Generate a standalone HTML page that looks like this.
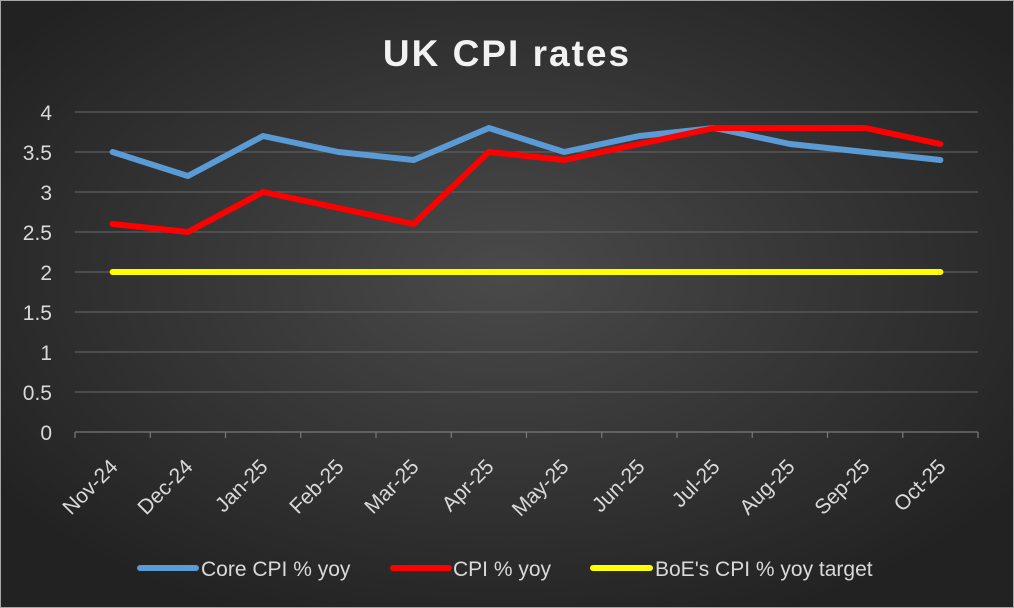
<!DOCTYPE html>
<html><head><meta charset="utf-8"><style>
html,body{margin:0;padding:0;background:#262626;}
svg{display:block;}
text{font-family:"Liberation Sans",sans-serif;}
</style></head><body>
<svg width="1014" height="608" viewBox="0 0 1014 608" xmlns="http://www.w3.org/2000/svg">
<defs>
<radialGradient id="bg" cx="50%" cy="45%" r="62%">
<stop offset="0" stop-color="#4a4a4a"/>
<stop offset="1" stop-color="#222222"/>
</radialGradient>
</defs>
<rect x="0" y="0" width="1014" height="608" fill="url(#bg)"/>
<rect x="0.5" y="0.5" width="1013" height="607" fill="none" stroke="#a6a6a6" stroke-width="1"/>
<text x="507" y="66" text-anchor="middle" font-size="37" font-weight="bold" fill="#f2f2f2" letter-spacing="2">UK CPI rates</text>
<g stroke="#5e5e5e" stroke-width="1.2">
<line x1="75" y1="112" x2="978" y2="112"/>
<line x1="75" y1="152" x2="978" y2="152"/>
<line x1="75" y1="192" x2="978" y2="192"/>
<line x1="75" y1="232" x2="978" y2="232"/>
<line x1="75" y1="272" x2="978" y2="272"/>
<line x1="75" y1="312" x2="978" y2="312"/>
<line x1="75" y1="352" x2="978" y2="352"/>
<line x1="75" y1="392" x2="978" y2="392"/>
</g>
<g stroke="#7a7a7a" stroke-width="1.2">
<line x1="75" y1="432" x2="978" y2="432"/>
<line x1="75" y1="432" x2="75" y2="438"/><line x1="150.25" y1="432" x2="150.25" y2="438"/><line x1="225.5" y1="432" x2="225.5" y2="438"/><line x1="300.75" y1="432" x2="300.75" y2="438"/><line x1="376" y1="432" x2="376" y2="438"/><line x1="451.25" y1="432" x2="451.25" y2="438"/><line x1="526.5" y1="432" x2="526.5" y2="438"/><line x1="601.75" y1="432" x2="601.75" y2="438"/><line x1="677" y1="432" x2="677" y2="438"/><line x1="752.25" y1="432" x2="752.25" y2="438"/><line x1="827.5" y1="432" x2="827.5" y2="438"/><line x1="902.75" y1="432" x2="902.75" y2="438"/><line x1="978" y1="432" x2="978" y2="438"/>
</g>
<g font-size="21" fill="#d9d9d9" text-anchor="end">
<text x="52" y="120">4</text><text x="52" y="160">3.5</text><text x="52" y="200">3</text><text x="52" y="240">2.5</text><text x="52" y="280">2</text><text x="52" y="320">1.5</text><text x="52" y="360">1</text><text x="52" y="400">0.5</text><text x="52" y="440">0</text>
</g>
<g font-size="21" fill="#d9d9d9" text-anchor="end">
<text transform="translate(119,468) rotate(-45)">Nov-24</text>
<text transform="translate(194,468) rotate(-45)">Dec-24</text>
<text transform="translate(269,468) rotate(-45)">Jan-25</text>
<text transform="translate(345,468) rotate(-45)">Feb-25</text>
<text transform="translate(420,468) rotate(-45)">Mar-25</text>
<text transform="translate(495,468) rotate(-45)">Apr-25</text>
<text transform="translate(570,468) rotate(-45)">May-25</text>
<text transform="translate(646,468) rotate(-45)">Jun-25</text>
<text transform="translate(721,468) rotate(-45)">Jul-25</text>
<text transform="translate(796,468) rotate(-45)">Aug-25</text>
<text transform="translate(871,468) rotate(-45)">Sep-25</text>
<text transform="translate(947,468) rotate(-45)">Oct-25</text>
</g>
<g fill="none" stroke-width="6" stroke-linecap="round" stroke-linejoin="round">
<polyline stroke="#ffff00" points="112.6,272 940.4,272"/>
<polyline stroke="#5b9bd5" points="112.6,152 187.9,176 263.1,136 338.4,152 413.6,160 488.9,128 564.1,152 639.4,136 714.6,128 789.9,144 865.1,152 940.4,160"/>
<polyline stroke="#ff0000" points="112.6,224 187.9,232 263.1,192 338.4,208 413.6,224 488.9,152 564.1,160 639.4,144 714.6,128 789.9,128 865.1,128 940.4,144"/>
</g>
<g stroke-width="6" stroke-linecap="round">
<line x1="140" y1="568" x2="196" y2="568" stroke="#5b9bd5"/>
<line x1="393" y1="568" x2="449" y2="568" stroke="#ff0000"/>
<line x1="593" y1="568" x2="650" y2="568" stroke="#ffff00"/>
</g>
<g font-size="21" fill="#d9d9d9">
<text x="201" y="576">Core CPI % yoy</text>
<text x="453" y="576">CPI % yoy</text>
<text x="655" y="576">BoE's CPI % yoy target</text>
</g>
</svg>
</body></html>
